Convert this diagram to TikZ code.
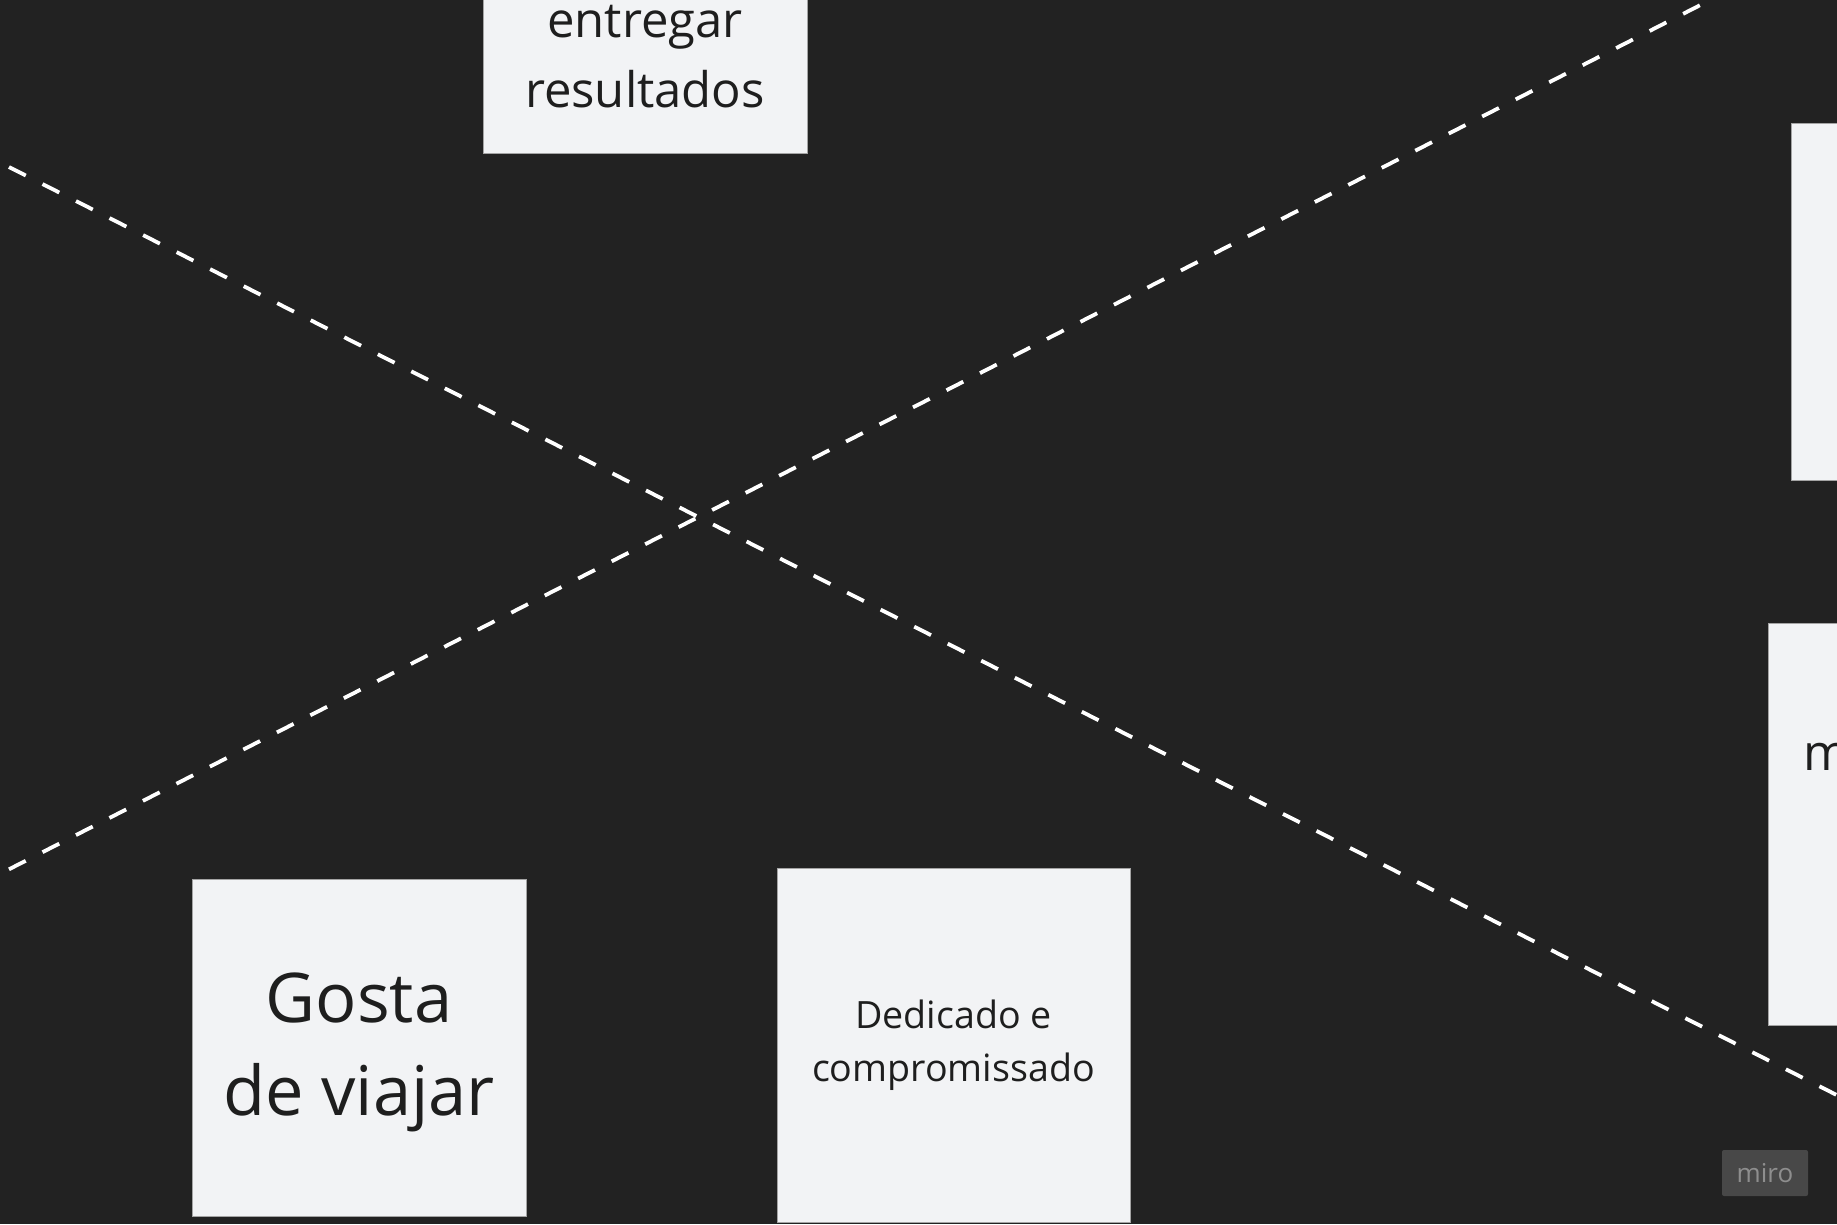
\documentclass[tikz,border=0pt]{standalone}
\usepackage{fontspec}
\setmainfont{Open Sans}
\definecolor{board}{HTML}{222222}
\definecolor{sticky}{HTML}{F2F3F5}
\definecolor{stickyedge}{HTML}{A4A4A4}
\definecolor{ink}{HTML}{1E1E1E}
\definecolor{logobg}{HTML}{484848}
\definecolor{logofg}{HTML}{8E8E8E}
\begin{document}
\begin{tikzpicture}[x=1pt,y=-1pt,
        note/.style={draw=stickyedge,line width=.8pt,fill=sticky,inner sep=0pt,text=ink,align=center},
        cut/.style={white,line width=3.8pt,dash pattern=on 18.8pt off 18.8pt}]
        \fill[board] (0,0) rectangle (1837,1224);
        \useasboundingbox (0,0) rectangle (1837,1224);
        \coordinate (a1) at (9,167);
        \coordinate (a2) at (1880,1117);
        \coordinate (b1) at (9,869.3);
        \coordinate (b2) at (1720,-5);
        \draw[cut] (a1) -- (a2);
        \draw[cut] (b1) -- (b2);
        \node[note,minimum width=324pt,minimum height=324pt] (result) at (645,-9) {};
        \node[text=ink,align=center,inner sep=0pt,font=\fontsize{49}{70}\selectfont] (resulttext) at (645,56.5) {entregar\\resultados};
        \node[note,minimum width=360pt,minimum height=357pt] (right1) at (1971,301.5) {};
        \node[note,minimum width=402pt,minimum height=402pt] (right2) at (1969,824) {};
        \node[text=ink,anchor=base west,inner sep=0pt,font=\fontsize{50}{68}\selectfont] (right2text) at (1803,770) {m};
        \node[note,minimum width=334pt,minimum height=337pt] (viajar) at (359,1047.5) {};
        \node[text=ink,align=center,inner sep=0pt,font=\fontsize{68.6}{93}\selectfont] (viajartext) at (359,1052) {Gosta\\de viajar};
        \node[note,minimum width=353pt,minimum height=354pt,font=\fontsize{37.6}{52.7}\selectfont] (dedicado) at (953.5,1045) {Dedicado e\\compromissado};
        \node[fill=logobg,rounded corners=2pt,minimum width=86pt,minimum height=46pt,inner sep=0pt,text=logofg,font=\fontsize{26}{30}\selectfont] (miro) at (1765,1173) {miro};
      \end{tikzpicture}
\end{document}
